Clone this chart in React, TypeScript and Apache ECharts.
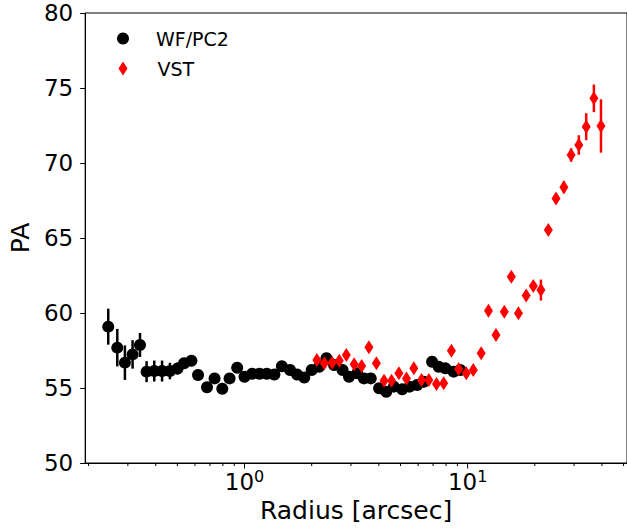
import React, { useEffect, useRef } from 'react';
import * as echarts from 'echarts';

const FONT = 'DejaVu Sans';

// WF/PC2 (black circles)
const wfRadius = [0.245, 0.269, 0.291, 0.315, 0.340, 0.364, 0.394, 0.427, 0.463, 0.501, 0.536, 0.578, 0.619, 0.679, 0.734, 0.795, 0.857, 0.927, 1.0, 1.082, 1.167, 1.258, 1.361, 1.47, 1.60, 1.72, 1.853, 2.0, 2.16, 2.33, 2.52, 2.75, 2.94, 3.2, 3.43, 3.68, 4.01, 4.32, 4.67, 5.09, 5.49, 5.94, 6.36, 6.93, 7.42, 7.95, 8.66, 9.27];
const wfPA = [59.09, 57.69, 56.69, 57.24, 57.87, 56.09, 56.13, 56.13, 56.13, 56.3, 56.65, 56.82, 55.87, 55.05, 55.64, 54.95, 55.64, 56.35, 55.75, 55.95, 55.95, 55.95, 55.9, 56.45, 56.2, 55.9, 55.7, 56.2, 56.42, 56.98, 56.53, 56.2, 55.75, 55.98, 55.64, 55.64, 54.98, 54.75, 55.09, 54.91, 55.09, 55.2, 55.42, 56.75, 56.42, 56.31, 56.09, 56.2];
const wfErr = [1.2, 1.25, 1.15, 0.95, 0.8, 0.7, 0.7, 0.7, 0.55, 0.4, 0.3, 0.3, 0.3, 0.3, 0.3, 0.3, 0.3, 0.3, 0.3, 0.3, 0.3, 0.3, 0.3, 0.3, 0.3, 0.3, 0.3, 0.3, 0.3, 0.3, 0.3, 0.3, 0.3, 0.3, 0.3, 0.3, 0.3, 0.3, 0.3, 0.3, 0.3, 0.3, 0.3, 0.3, 0.3, 0.3, 0.3, 0.3];

// VST (red diamonds)
const vstRadius = [2.11, 2.28, 2.47, 2.66, 2.86, 3.10, 3.35, 3.61, 3.90, 4.22, 4.56, 4.92, 5.32, 5.74, 6.21, 6.70, 7.25, 7.81, 8.46, 9.12, 9.86, 10.6, 11.5, 12.4, 13.4, 14.6, 15.7, 16.9, 18.3, 19.7, 21.3, 23.0, 24.9, 27.0, 29.1, 31.5, 34.0, 36.8, 39.6];
const vstPA = [56.87, 56.65, 56.69, 56.82, 57.2, 56.58, 56.47, 57.71, 56.65, 55.49, 55.49, 55.98, 55.64, 56.31, 55.53, 55.53, 55.27, 55.31, 57.49, 56.27, 55.98, 56.2, 57.31, 60.15, 58.53, 60.09, 62.42, 59.98, 61.16, 61.8, 61.53, 65.53, 67.64, 68.38, 70.53, 71.2, 72.42, 74.31, 72.47];
const vstErr = [0.3, 0.3, 0.3, 0.3, 0.3, 0.3, 0.3, 0.3, 0.3, 0.3, 0.3, 0.3, 0.3, 0.3, 0.3, 0.3, 0.3, 0.3, 0.3, 0.3, 0.3, 0.3, 0.3, 0.3, 0.3, 0.3, 0.3, 0.3, 0.3, 0.3, 0.7, 0.3, 0.3, 0.4, 0.45, 0.65, 0.9, 0.92, 1.78];

// axis ticks
const xMajorTicks = [1, 10];
const xMinorTicks = [0.2, 0.3, 0.4, 0.5, 0.6, 0.7, 0.8, 0.9, 2, 3, 4, 5, 6, 7, 8, 9, 20, 30, 40, 50];
const yMin = 50;
const yMax = 80;
const yStep = 5;
const xMin = 0.1931;
const xMax = 51.8;

export default function App() {
  const ref = useRef<HTMLDivElement>(null);

  useEffect(() => {
    document.body.style.margin = '0';
    const chart = echarts.init(ref.current as HTMLDivElement, null, { renderer: 'svg' });

    const errRender = (color: string) => (_params: any, api: any) => {
      const x = api.value(0);
      const y = api.value(1);
      const e = api.value(2);
      const p1 = api.coord([x, y - e]);
      const p2 = api.coord([x, y + e]);
      return {
        type: 'line',
        shape: { x1: p1[0], y1: p1[1], x2: p2[0], y2: p2[1] },
        style: { stroke: color, lineWidth: 2.5 },
      };
    };

    const tickRender = (len: number) => (_params: any, api: any) => {
      const p = api.coord([api.value(0), yMin]);
      return {
        type: 'line',
        shape: { x1: p[0], y1: p[1], x2: p[0], y2: p[1] + len },
        style: { stroke: '#000', lineWidth: 1 },
      };
    };

    const wfData = wfRadius.map((r, i) => [r, wfPA[i]]);
    const wfErrData = wfRadius.map((r, i) => [r, wfPA[i], wfErr[i]]);
    const vstData = vstRadius.map((r, i) => [r, vstPA[i]]);
    const vstErrData = vstRadius.map((r, i) => [r, vstPA[i], vstErr[i]]);

    chart.setOption({
      animation: false,
      backgroundColor: '#fff',
      grid: {
        left: 85,
        right: -3,
        top: 13,
        bottom: 69,
        show: true,
        borderColor: '#000',
        borderWidth: 1,
        backgroundColor: 'transparent',
      },
      legend: [
        {
          data: [{ name: 'WF/PC2', icon: 'circle' }],
          left: 112,
          top: 24,
          itemWidth: 12,
          itemHeight: 12,
          selectedMode: false,
          textStyle: { fontSize: 19, fontFamily: FONT, color: '#000', padding: [0, 0, 0, 22] },
        },
        {
          data: [{ name: 'VST', icon: 'diamond' }],
          left: 113.5,
          top: 54,
          itemWidth: 9,
          itemHeight: 14,
          selectedMode: false,
          textStyle: { fontSize: 19, fontFamily: FONT, color: '#000', padding: [0, 0, 0, 25] },
        },
      ],
      xAxis: {
        type: 'log',
        logBase: 10,
        min: xMin,
        max: xMax,
        name: 'Radius [arcsec]',
        nameLocation: 'middle',
        nameGap: 28,
        nameTextStyle: { fontSize: 25, fontFamily: FONT, color: '#000' },
        axisLine: { show: true, lineStyle: { color: '#000', width: 1 } },
        axisTick: { show: false },
        splitLine: { show: false },
        axisLabel: {
          margin: 5,
          showMinLabel: false,
          showMaxLabel: false,
          formatter: (v: number) => {
            const l = Math.log10(v);
            const n = Math.round(l);
            if (Math.abs(l - n) > 1e-6) return '';
            return '{b|10}{s|' + n + '}';
          },
          rich: {
            b: { fontSize: 23, lineHeight: 28, fontFamily: FONT, color: '#000' },
            s: { fontSize: 16, lineHeight: 16, verticalAlign: 'top', fontFamily: FONT, color: '#000' },
          },
        },
      },
      yAxis: {
        type: 'value',
        min: yMin,
        max: yMax,
        interval: yStep,
        name: 'PA',
        nameLocation: 'middle',
        nameGap: 49,
        nameTextStyle: { fontSize: 25, fontFamily: FONT, color: '#000' },
        axisLine: { show: true, lineStyle: { color: '#000', width: 1 } },
        axisTick: { show: true, inside: false, length: 5, lineStyle: { color: '#000', width: 1 } },
        splitLine: { show: false },
        axisLabel: { fontSize: 23, fontFamily: FONT, color: '#000', margin: 12 },
      },
      series: [
        {
          type: 'custom',
          name: 'wf-err',
          renderItem: errRender('#000'),
          data: wfErrData,
          encode: { x: 0, y: 1 },
          clip: false,
          z: 2,
        },
        {
          type: 'scatter',
          name: 'WF/PC2',
          data: wfData,
          symbol: 'circle',
          symbolSize: 12,
          itemStyle: { color: '#000', opacity: 1 },
          z: 3,
        },
        {
          type: 'custom',
          name: 'vst-err',
          renderItem: errRender('#ff0000'),
          data: vstErrData,
          encode: { x: 0, y: 1 },
          clip: false,
          z: 4,
        },
        {
          type: 'scatter',
          name: 'VST',
          data: vstData,
          symbol: 'diamond',
          symbolSize: [9, 14],
          itemStyle: { color: '#ff0000', opacity: 1 },
          z: 5,
        },
        {
          type: 'custom',
          name: 'x-major',
          renderItem: tickRender(5.5),
          data: xMajorTicks.map((v) => [v, yMin]),
          encode: { x: 0, y: 1 },
          clip: false,
          silent: true,
          z: 6,
        },
        {
          type: 'custom',
          name: 'x-minor',
          renderItem: tickRender(3),
          data: xMinorTicks.map((v) => [v, yMin]),
          encode: { x: 0, y: 1 },
          clip: false,
          silent: true,
          z: 6,
        },
      ],
    });

    return () => {
      chart.dispose();
    };
  }, []);

  return (
    <div
      ref={ref}
      style={{ position: 'fixed', left: 0, top: 0, width: '627px', height: '532px' }}
    />
  );
}
